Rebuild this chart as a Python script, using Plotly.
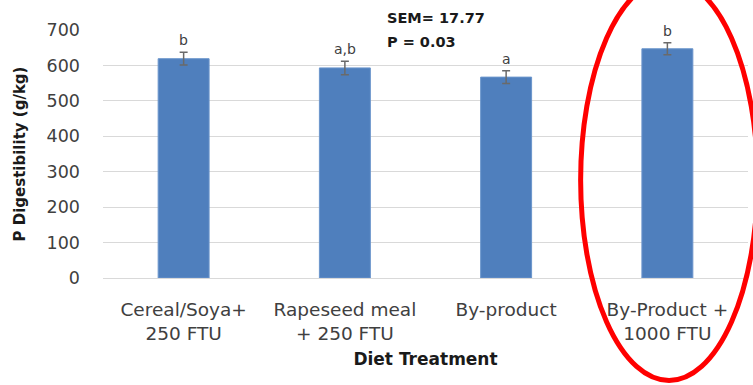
import plotly.graph_objects as go

categories = ["Cereal/Soya+<br>250 FTU", "Rapeseed meal<br>+ 250 FTU", "By-product", "By-Product +<br>1000 FTU"]
values = [619, 593, 567, 647]
errors = [18, 19, 18, 17]
letters = ["b", "a,b", "a", "b"]
y_ticks = [0, 100, 200, 300, 400, 500, 600, 700]

W, H = 753, 385
L, R, T, B = 102.5, 5, 30, 107
FONT = "DejaVu Sans"
TXT = "#404040"

fig = go.Figure()
fig.add_trace(go.Bar(
    x=categories, y=values,
    marker=dict(color="#4F7FBD", line=dict(color="#6B95CC", width=1)),
    error_y=dict(type="data", array=errors, visible=True, color="#6a6a6a", thickness=1.5, width=4),
    width=0.316,
    showlegend=False,
))

for c, v, e, t in zip(categories, values, errors, letters):
    fig.add_annotation(x=c, y=v + e, text=t, showarrow=False, yanchor="bottom", yshift=2,
                       font=dict(family=FONT, size=14, color=TXT))

pw, ph = W - L - R, H - T - B
def px(x):
    return (x - L) / pw
def py(y):
    return (H - B - y) / ph

fig.add_annotation(xref="paper", yref="paper", x=px(385), y=py(18),
                   text="<b>SEM= 17.77</b>", showarrow=False, xanchor="left", yanchor="middle",
                   font=dict(family=FONT, size=14.5, color="#1a1a1a"))
fig.add_annotation(xref="paper", yref="paper", x=px(385), y=py(42),
                   text="<b>P = 0.03</b>", showarrow=False, xanchor="left", yanchor="middle",
                   font=dict(family=FONT, size=14.5, color="#1a1a1a"))

fig.add_shape(type="circle", xref="paper", yref="paper",
              x0=px(580.5), x1=px(757.5), y0=py(380.5), y1=py(-20.5),
              line=dict(color="#FF0000", width=5))

fig.update_layout(
    width=W, height=H,
    margin=dict(l=L, r=R, t=T, b=B, pad=0),
    paper_bgcolor="white", plot_bgcolor="white",
    font=dict(family=FONT, color=TXT),
    xaxis=dict(
        title=dict(text="<b>Diet Treatment</b>", font=dict(family=FONT, size=17, color="#1a1a1a"), standoff=10),
        tickfont=dict(family=FONT, size=18.5, color=TXT),
        showline=False, showgrid=False, ticks="", ticklabelstandoff=18,
    ),
    yaxis=dict(
        title=dict(text="<b>P Digestibility (g/kg)</b>", font=dict(family=FONT, size=15, color="#1a1a1a"), standoff=17),
        range=[0, 700], tickvals=y_ticks,
        tickfont=dict(family=FONT, size=17.5, color=TXT),
        showgrid=True, gridcolor="#D9D9D9", gridwidth=1,
        zeroline=True, zerolinecolor="#D9D9D9", zerolinewidth=1,
        showline=False, ticks="", ticklabelstandoff=22,
    ),
)

fig.write_html("out.html")
